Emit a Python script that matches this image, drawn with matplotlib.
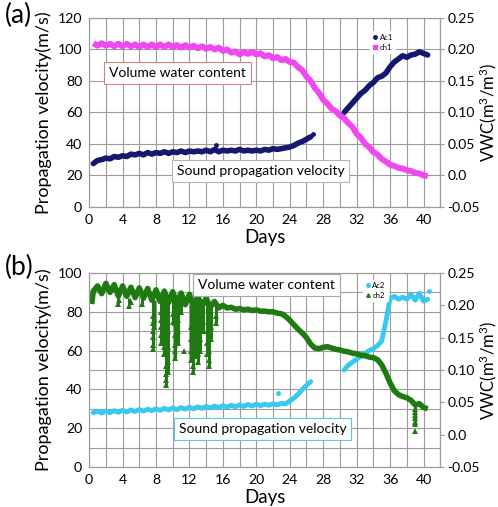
import numpy as np
import matplotlib
matplotlib.use("Agg")
import matplotlib.pyplot as plt
from matplotlib.ticker import MultipleLocator
from matplotlib.lines import Line2D

plt.rcParams['font.family'] = ['Lato', 'DejaVu Sans']
plt.rcParams['mathtext.fontset'] = 'custom'
plt.rcParams['mathtext.rm'] = 'Lato'
plt.rcParams['mathtext.it'] = 'Lato:italic'

# ---------------- data: panel (a) ----------------
# ch1 : volume water content (m3/m3), every half day from day 0.5
ch1_days = np.arange(0.5, 40.6, 0.5)
ch1_vwc = [0.210, 0.206, 0.210, 0.206, 0.209, 0.205, 0.209, 0.205, 0.209, 0.205,
           0.208, 0.204, 0.208, 0.204, 0.208, 0.204, 0.208, 0.204, 0.208, 0.204,
           0.207, 0.203, 0.207, 0.203, 0.206, 0.202, 0.205, 0.201, 0.204, 0.200,
           0.203, 0.198, 0.200, 0.195, 0.197, 0.192, 0.196, 0.193, 0.196, 0.192,
           0.194, 0.189, 0.191, 0.186, 0.188, 0.183, 0.185, 0.180, 0.179, 0.172,
           0.167, 0.157, 0.150, 0.139, 0.131, 0.120, 0.114, 0.106, 0.102, 0.095,
           0.091, 0.083, 0.077, 0.066, 0.060, 0.050, 0.045, 0.037, 0.033, 0.026,
           0.022, 0.017, 0.015, 0.012, 0.011, 0.008, 0.007, 0.004, 0.003, 0.000,
           -0.001]

# Ac1 : sound propagation velocity (m/s), two measuring periods
ac1_days_1 = np.arange(0.5, 26.6, 0.5)
ac1_vel_1 = [27.5, 29.5, 30.0, 31.0, 30.5, 32.0, 31.5, 32.5, 32.0, 33.5,
             33.0, 34.0, 33.0, 34.5, 33.5, 34.5, 34.0, 35.0, 34.0, 35.0,
             34.5, 35.5, 34.5, 35.5, 35.0, 35.5, 35.0, 36.0, 35.0, 36.5,
             35.0, 36.0, 35.5, 36.0, 35.5, 36.5, 35.5, 36.0, 35.5, 36.0,
             35.5, 36.5, 36.0, 37.0, 36.5, 37.0, 37.5, 38.0, 39.0, 40.5,
             41.5, 43.0, 44.5]
ac1_days_2 = np.arange(30.5, 40.6, 0.5)
ac1_vel_2 = [60.0, 63.0, 66.0, 69.0, 72.0, 74.0, 77.0, 79.0, 82.0, 83.0,
             85.0, 89.0, 92.0, 94.0, 96.0, 95.0, 96.5, 97.0, 98.5, 97.5, 96.5]
ac1_out_day = [15.2, 26.8]
ac1_out_vel = [39.0, 46.0]

# ---------------- data: panel (b) ----------------
ch2_days = np.concatenate(([0.3], np.arange(0.5, 40.6, 0.5)))
ch2_vwc = [0.202,
           0.222, 0.230, 0.218, 0.234, 0.220, 0.232, 0.214, 0.230, 0.214, 0.228,
           0.212, 0.227, 0.211, 0.226, 0.208, 0.224, 0.206, 0.222, 0.204, 0.221,
           0.203, 0.219, 0.201, 0.217, 0.200, 0.214, 0.198, 0.211, 0.197, 0.206,
           0.196, 0.200, 0.196, 0.197, 0.194, 0.195, 0.193, 0.194, 0.192, 0.193,
           0.191, 0.191, 0.190, 0.190, 0.188, 0.187, 0.183, 0.177, 0.170, 0.163,
           0.157, 0.150, 0.140, 0.134, 0.133, 0.135, 0.136, 0.134, 0.132, 0.131,
           0.129, 0.128, 0.126, 0.125, 0.123, 0.122, 0.120, 0.119, 0.116, 0.108,
           0.095, 0.080, 0.068, 0.062, 0.059, 0.057, 0.053, 0.046, 0.048, 0.042,
           0.040]
# columns of low ch2 readings: day, lowest value, and the triangles seen in them
ch2_col_day = [3.4, 4.8, 6.3, 7.6, 7.8, 8.6, 8.9, 9.2, 9.4, 10.0, 10.3, 10.6,
               11.0, 12.2, 12.4, 12.7, 13.0, 13.3, 13.6, 14.1, 14.3, 14.6, 15.2, 39.0]
ch2_col_low = [0.202, 0.199, 0.202, 0.133, 0.166, 0.142, 0.124, 0.076, 0.097, 0.175,
               0.118, 0.142, 0.190, 0.115, 0.097, 0.121, 0.112, 0.130, 0.160, 0.124,
               0.106, 0.148, 0.172, 0.016]
ch2_col_top = [0.212, 0.212, 0.211, 0.208, 0.208, 0.206, 0.212, 0.206, 0.204, 0.215,
               0.206, 0.204, 0.210, 0.202, 0.201, 0.206, 0.208, 0.204, 0.198, 0.205,
               0.200, 0.198, 0.197, 0.046]
ch2_dip_day = [3.4, 3.6, 4.8, 5.0, 6.3,
               7.6, 7.6, 7.6, 7.6, 7.6, 7.6, 7.8, 7.8,
               8.6, 8.6, 8.6, 8.6, 8.6, 8.9, 8.9, 8.9, 8.9,
               9.2, 9.2, 9.2, 9.2, 9.2, 9.2, 9.2, 9.4, 9.4, 9.4, 9.4,
               10.0, 10.0, 10.3, 10.3, 10.3, 10.3, 10.3, 10.6, 10.6, 10.6,
               11.0, 11.3,
               12.2, 12.2, 12.2, 12.2, 12.4, 12.4, 12.4, 12.4, 12.4, 12.4,
               12.7, 12.7, 12.7, 12.7, 13.0, 13.0, 13.0, 13.0, 13.0,
               13.3, 13.3, 13.3, 13.6, 13.6,
               14.1, 14.1, 14.1, 14.3, 14.3, 14.3, 14.3, 14.3, 14.6, 14.6,
               15.2, 15.2,
               39.0, 39.0, 39.0, 39.0, 39.0, 39.0, 39.0]
ch2_dip_vwc = [0.202, 0.208, 0.199, 0.205, 0.202,
               0.184, 0.172, 0.160, 0.151, 0.139, 0.133, 0.178, 0.166,
               0.190, 0.178, 0.166, 0.154, 0.142, 0.184, 0.160, 0.136, 0.124,
               0.175, 0.148, 0.124, 0.106, 0.094, 0.085, 0.076, 0.160, 0.136, 0.112, 0.097,
               0.187, 0.175, 0.172, 0.154, 0.139, 0.130, 0.118, 0.178, 0.160, 0.142,
               0.190, 0.130,
               0.166, 0.148, 0.130, 0.115, 0.181, 0.160, 0.142, 0.124, 0.106, 0.097,
               0.172, 0.154, 0.136, 0.121, 0.178, 0.160, 0.142, 0.124, 0.112,
               0.166, 0.148, 0.130, 0.175, 0.160,
               0.160, 0.142, 0.124, 0.178, 0.148, 0.130, 0.115, 0.106, 0.166, 0.148,
               0.184, 0.172,
               0.040, 0.035, 0.030, 0.025, 0.020, 0.016, 0.005]

ac2_days_1 = np.arange(0.5, 26.6, 0.5)
ac2_vel_1 = [28.0, 28.8, 27.8, 28.8, 28.0, 29.0, 28.2, 29.2, 28.4, 29.4,
             28.6, 29.6, 28.8, 29.8, 29.0, 30.0, 29.2, 30.2, 29.4, 30.4,
             29.6, 30.6, 29.8, 30.8, 30.0, 31.0, 30.2, 31.2, 30.4, 31.4,
             30.6, 31.6, 30.8, 31.8, 31.0, 32.0, 31.2, 32.2, 31.4, 32.4,
             31.6, 32.4, 31.8, 32.6, 32.0, 32.8, 32.5, 34.0, 35.5, 37.5,
             40.0, 42.0, 44.0]
ac2_days_2 = np.arange(30.5, 40.6, 0.5)
ac2_vel_2 = [50.0, 52.5, 54.0, 55.5, 57.0, 58.5, 60.0, 61.0, 62.5, 65.0,
             75.0, 87.0, 88.0, 86.5, 87.5, 86.5, 89.0, 86.0, 89.5, 85.5, 86.5]
ac2_out_day = [22.6, 40.6]
ac2_out_vel = [38.0, 90.5]

vwc_ticks = [-0.05, 0.0, 0.05, 0.10, 0.15, 0.20, 0.25]
vwc_labels = ['-0.05', '0.0', '0.05', '0.10', '0.15', '0.20', '0.25']

# colours
c_ac1 = '#16176e'
c_ch1 = '#f048f0'
c_ac2 = '#38c8f0'
c_ch2 = '#1f7a12'
grid_c = '#9c9c9c'


def setup_axes(ax, ax2, ymax, ygrid):
    ax.set_xlim(0, 42)
    ax.set_ylim(0, ymax)
    ax.set_xticks(range(0, 41, 4))
    ax.xaxis.set_minor_locator(MultipleLocator(2))
    ax.set_yticks(range(0, ymax + 1, 20))
    ax.yaxis.set_minor_locator(MultipleLocator(ygrid))
    ax.grid(which='both', color=grid_c, lw=0.8)
    ax.set_axisbelow(True)
    ax.tick_params(which='both', length=0, labelsize=10.2, pad=5)
    ax2.set_ylim(-0.05, 0.25)
    ax2.set_yticks(vwc_ticks)
    ax2.set_yticklabels(vwc_labels)
    ax2.tick_params(length=3, color=grid_c, labelsize=10, pad=2)
    for a in (ax, ax2):
        for s in a.spines.values():
            s.set_color(grid_c)
            s.set_linewidth(0.8)
    ax.set_xlabel('Days', fontsize=13.5, labelpad=2)
    ax.set_ylabel('Propagation velocity(m/s)', fontsize=13, labelpad=4)
    ax2.set_ylabel('VWC(m$^{3}$/m$^{3}$)', fontsize=12)
    ax2.yaxis.set_label_coords(1.106, 0.5)


fig = plt.figure(figsize=(4.98, 5.07), dpi=100)

# ---------------- panel (a) ----------------
ax = fig.add_axes([0.179, 0.592, 0.705, 0.3725])
ax2 = ax.twinx()
setup_axes(ax, ax2, 120, 20)

ax.plot(ac1_days_1, ac1_vel_1, color=c_ac1, lw=4, solid_capstyle='round')
ax.plot(ac1_days_2, ac1_vel_2, color=c_ac1, lw=4, solid_capstyle='round')
ax.plot(ac1_out_day, ac1_out_vel, 'o', color=c_ac1, ms=2.5)
ax2.plot(ch1_days, ch1_vwc, color=c_ch1, lw=4.3, solid_capstyle='butt')

ax2.text(0.252, 0.709, 'Volume water content', transform=ax.transAxes,
         ha='center', va='center', fontsize=10, zorder=10,
         bbox=dict(boxstyle='square,pad=0.35', fc='white', ec='#d88080', lw=0.8))
ax2.text(0.489, 0.188, 'Sound propagation velocity', transform=ax.transAxes,
         ha='center', va='center', fontsize=10, zorder=10,
         bbox=dict(boxstyle='square,pad=0.35', fc='white', ec='#a8b8c8', lw=0.8))

h_a = [Line2D([], [], ls='none', marker='o', ms=2.5, color=c_ac1),
       Line2D([], [], ls='none', marker='s', ms=2.5, color=c_ch1)]
ax2.legend(h_a, ['Ac1', 'ch1'], loc='upper left', bbox_to_anchor=(0.79, 0.95),
           fontsize=5.5, frameon=True, facecolor='white', edgecolor='white',
           framealpha=1, handlelength=0.6, handletextpad=0.3, borderpad=0.3,
           labelspacing=0.4)

fig.text(0.01, 0.995, '(a)', fontsize=19, va='top', ha='left')

# ---------------- panel (b) ----------------
bx = fig.add_axes([0.179, 0.079, 0.705, 0.3825])
bx2 = bx.twinx()
setup_axes(bx, bx2, 100, 10)

bx.plot(ac2_days_1, ac2_vel_1, color=c_ac2, lw=3.5, solid_capstyle='round')
bx.plot(ac2_days_2, ac2_vel_2, color=c_ac2, lw=3.5, solid_capstyle='round')
bx.plot(ac2_out_day, ac2_out_vel, 'o', color=c_ac2, ms=2.5)
bx2.plot(ch2_days, ch2_vwc, color=c_ch2, lw=4, solid_capstyle='butt')
bx2.vlines(ch2_col_day, ch2_col_low, ch2_col_top, color=c_ch2, lw=2.2)
bx2.plot(ch2_dip_day, ch2_dip_vwc, '^', color=c_ch2, ms=4, mew=0)

bx2.text(0.506, 0.938, 'Volume water content', transform=bx.transAxes,
         ha='center', va='center', fontsize=10, zorder=10,
         bbox=dict(boxstyle='square,pad=0.35', fc='white', ec='#a0a8b8', lw=0.8))
bx2.text(0.494, 0.196, 'Sound propagation velocity', transform=bx.transAxes,
         ha='center', va='center', fontsize=10, zorder=10,
         bbox=dict(boxstyle='square,pad=0.35', fc='white', ec='#60c8e0', lw=0.8))

h_b = [Line2D([], [], ls='none', marker='o', ms=2.5, color=c_ac2),
       Line2D([], [], ls='none', marker='^', ms=2.5, color=c_ch2)]
bx2.legend(h_b, ['Ac2', 'ch2'], loc='upper left', bbox_to_anchor=(0.77, 0.985),
           fontsize=5.5, frameon=True, facecolor='white', edgecolor='white',
           framealpha=1, handlelength=0.6, handletextpad=0.3, borderpad=0.3,
           labelspacing=0.4)

fig.text(0.01, 0.497, '(b)', fontsize=19, va='top', ha='left')

fig.savefig('out.png', dpi=100)
